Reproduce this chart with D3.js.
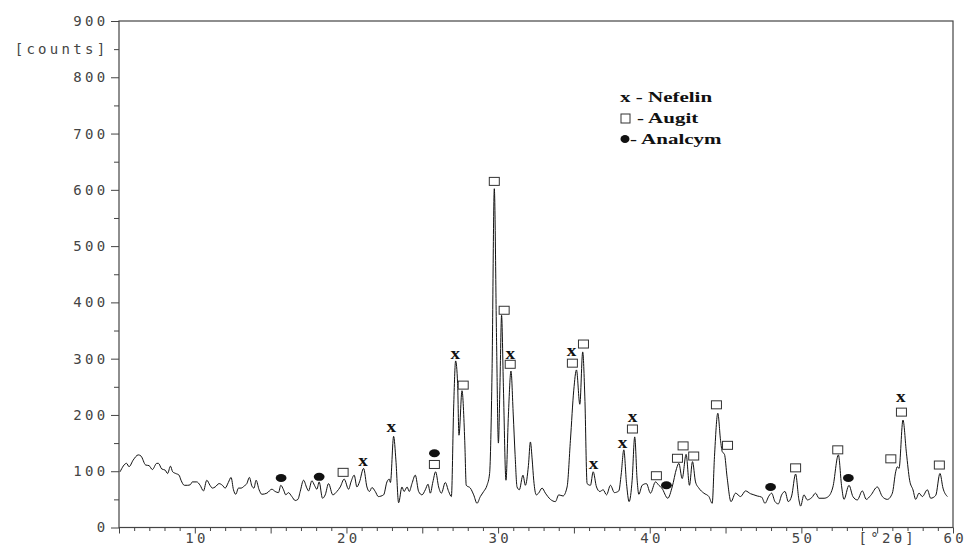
<!DOCTYPE html>
<html>
<head>
<meta charset="utf-8">
<script src="https://cdn.jsdelivr.net/npm/d3@7/dist/d3.min.js"></script>
<style>
  body { margin: 0; background: #fff; }
  .axis text { font-family: 'DejaVu Sans Mono', monospace; font-size: 14px; letter-spacing: 3.3px; fill: #444; }
  .axis line { stroke: #444; }
</style>
</head>
<body>
<div id="chart"></div>
<script>
// diffraction pattern: angle [°2θ] and intensity [counts]
const twoTheta = [
  5.07, 5.5, 5.66, 5.94, 6.27, 6.45, 6.76, 6.98, 7.2, 7.49, 7.6, 7.82, 8.04, 8.21, 8.39, 8.54, 8.74, 8.96,
  9.09, 9.31, 9.53, 9.7, 9.84, 10.13, 10.35, 10.57, 10.79, 11.0, 11.16, 11.34, 11.6, 11.82, 12.0, 12.21,
  12.39, 12.55, 12.7, 12.88, 13.05, 13.27, 13.43, 13.6, 13.76, 13.9, 14.04, 14.24, 14.42, 14.75, 15.08,
  15.3, 15.52, 15.67, 15.85, 16.0, 16.17, 16.4, 16.62, 16.8, 16.95, 17.17, 17.39, 17.5, 17.72, 17.89,
  18.05, 18.2, 18.42, 18.6, 18.82, 19.1, 19.37, 19.59, 19.85, 20.14, 20.3, 20.51, 20.69, 20.86, 21.13,
  21.35, 21.52, 21.68, 21.9, 22.1, 22.45, 22.67, 22.82, 22.9, 23.11, 23.26, 23.44, 23.66, 23.8, 24.0,
  24.14, 24.32, 24.54, 24.76, 24.98, 25.2, 25.38, 25.53, 25.7, 25.88, 26.08, 26.26, 26.52, 26.74, 26.92,
  27.07, 27.2, 27.33, 27.42, 27.62, 27.8, 27.9, 28.17, 28.39, 28.61, 28.83, 29.05, 29.27, 29.44, 29.6,
  29.75, 29.9, 30.02, 30.12, 30.23, 30.35, 30.52, 30.68, 30.85, 31.0, 31.12, 31.25, 31.4, 31.64, 31.8,
  32.0, 32.13, 32.25, 32.35, 32.52, 32.67, 32.9, 33.12, 33.45, 33.78, 34.0, 34.28, 34.55, 34.77, 34.99,
  35.17, 35.39, 35.58, 35.72, 35.87, 36.09, 36.27, 36.49, 36.71, 36.93, 37.15, 37.41, 37.67, 37.96,
  38.12, 38.29, 38.47, 38.64, 38.84, 39.01, 39.17, 39.28, 39.5, 39.78, 40.05, 40.38, 40.6, 40.8, 41.19,
  41.48, 41.77, 41.92, 42.14, 42.4, 42.62, 42.82, 43.02, 43.24, 43.57, 43.9, 44.12, 44.27, 44.49, 44.67,
  44.78, 44.93, 45.1, 45.36, 45.66, 45.99, 46.32, 46.65, 46.87, 47.09, 47.38, 47.6, 47.86, 48.04, 48.26,
  48.48, 48.7, 48.92, 49.14, 49.36, 49.62, 49.84, 49.95, 50.17, 50.39, 50.68, 50.94, 51.16, 51.5, 51.78,
  52.08, 52.44, 52.66, 52.81, 53.14, 53.4, 53.69, 54.02, 54.28, 54.57, 55.01, 55.34, 55.67, 56.0, 56.22,
  56.33, 56.44, 56.7, 56.93, 57.14, 57.36, 57.54, 57.76, 57.98, 58.31, 58.53, 58.86, 59.14, 59.34, 59.63
];
const counts = [
  99, 114, 108, 120, 129, 127, 111, 110, 103, 114, 114, 104, 102, 96, 109, 99, 96, 93,
  84, 75, 75, 76, 81, 81, 75, 65, 84, 75, 70, 72, 78, 75, 70, 80,
  89, 67, 59, 70, 70, 74, 78, 89, 74, 70, 84, 67, 59, 61, 68,
  64, 62, 75, 67, 58, 62, 55, 48, 50, 64, 84, 70, 65, 83, 75,
  68, 81, 52, 58, 78, 58, 64, 72, 86, 68, 81, 93, 72, 81, 105,
  72, 64, 71, 64, 55, 58, 81, 86, 80, 162, 120, 44, 72, 64, 72,
  64, 78, 93, 64, 58, 67, 77, 61, 81, 99, 72, 61, 80, 64, 55,
  214, 296, 256, 164, 243, 155, 75, 70, 58, 43, 55, 64, 75, 96, 274,
  602, 330, 150, 250, 377, 250, 84, 200, 278, 200, 130, 72, 67, 93, 75,
  110, 152, 120, 84, 58, 61, 70, 61, 50, 46, 58, 56, 72, 155, 244,
  280, 219, 312, 232, 78, 75, 99, 72, 64, 67, 58, 75, 62, 65,
  95, 138, 78, 46, 84, 161, 84, 59, 75, 78, 61, 81, 75, 70, 52,
  72, 105, 114, 87, 130, 75, 117, 81, 70, 61, 55, 43, 126, 203, 155,
  135, 130, 90, 46, 61, 55, 65, 60, 58, 56, 54, 43, 56, 61, 46,
  42, 58, 64, 46, 56, 95, 49, 38, 58, 49, 53, 61, 52, 52, 55,
  72, 129, 72, 50, 75, 55, 49, 65, 50, 57, 72, 55, 50, 61, 99,
  108, 105, 191, 132, 84, 67, 50, 61, 55, 67, 52, 57, 96, 70, 55
];

// phase marks [°2θ, counts] as placed above the peaks
const nefelinMarks = [[21.1, 116], [22.95, 177], [27.18, 306], [30.8, 306], [34.84, 312],
  [36.29, 110], [38.2, 148], [38.86, 194], [56.55, 230]];
const augitMarks = [[19.78, 98], [25.8, 112], [27.7, 253], [29.75, 615], [30.4, 386], [30.8, 290],
  [34.9, 292], [35.63, 326], [38.86, 175], [40.44, 92], [41.83, 123], [42.2, 145], [42.9, 127],
  [44.4, 218], [45.13, 146], [49.62, 106], [52.4, 138], [55.9, 122], [56.6, 205], [59.1, 111]];
const analcymMarks = [[15.69, 88], [18.2, 90], [25.8, 132], [41.1, 75], [47.97, 72], [53.1, 88]];

const yTickLabels = [0, 100, 200, 300, 400, 500, 600, 700, 800, 900];
const xTickLabels = [10, 20, 30, 40, 50, 60];

const containerWidth = 968;
const containerHeight = 545;
const margin = { top: 21, right: 15, bottom: 17.5, left: 119 };
const width = containerWidth - margin.left - margin.right;
const height = containerHeight - margin.top - margin.bottom;

const x = d3.scaleLinear().domain([5, 60]).range([0, width]);
const y = d3.scaleLinear().domain([0, 900]).range([height, 0]);

const svg = d3.select('#chart')
    .append('svg')
    .attr('width', containerWidth)
    .attr('height', containerHeight)
    .append('g')
    .attr('transform', `translate(${margin.left}, ${margin.top})`);

// y axis: major ticks every 100, minor every 50
const yAxis = d3.axisLeft(y)
    .tickValues(d3.range(0, 901, 50))
    .tickSize(8)
    .tickSizeOuter(0)
    .tickPadding(4)
    .tickFormat(d => yTickLabels.includes(d) ? d : (d === 850 ? '[counts]' : ''));

const gy = svg.append('g').attr('class', 'axis').call(yAxis);
gy.select('.domain').remove();
gy.selectAll('.tick line').attr('x2', d => d % 100 === 0 ? -8 : -5);
gy.selectAll('.tick text').attr('dx', 1.5);

// x axis: ticks every degree, long ones every 5
const xAxis = d3.axisBottom(x)
    .tickValues(d3.range(5, 61, 1))
    .tickSize(6)
    .tickSizeOuter(0)
    .tickPadding(0)
    .tickFormat(d => xTickLabels.includes(d) ? d : '');

const gx = svg.append('g')
    .attr('class', 'axis')
    .attr('transform', `translate(0, ${height})`)
    .call(xAxis);
gx.select('.domain').remove();
gx.selectAll('.tick line').attr('y2', d => d % 5 === 0 ? 6 : 3.5);
gx.selectAll('.tick text').attr('dx', 1.7);

gx.append('text')
    .attr('x', x(55.7))
    .attr('y', 6)
    .attr('dy', '0.71em')
    .attr('text-anchor', 'middle')
    .attr('fill', '#444')
    .text('[°2θ]');

// frame
svg.append('rect')
    .attr('width', width)
    .attr('height', height)
    .attr('fill', 'none')
    .attr('stroke', '#444')
    .attr('stroke-width', 1.2);

// pattern
const pattern = twoTheta.map((t, i) => [t, counts[i]]);

const line = d3.line()
    .x(d => x(d[0]))
    .y(d => y(d[1]))
    .curve(d3.curveMonotoneX);

svg.append('path')
    .datum(pattern)
    .attr('fill', 'none')
    .attr('stroke', '#111')
    .attr('stroke-width', 1)
    .attr('d', line);

// phase marks
svg.append('g')
    .selectAll('text')
    .data(nefelinMarks)
    .join('text')
    .attr('transform', d => `translate(${x(d[0])}, ${y(d[1])}) scale(1.2, 1)`)
    .attr('dy', '0.23em')
    .attr('text-anchor', 'middle')
    .style('font-family', "'Liberation Serif', serif")
    .style('font-weight', 700)
    .style('font-size', '16px')
    .attr('fill', '#111')
    .text('x');

svg.append('g')
    .selectAll('rect')
    .data(augitMarks)
    .join('rect')
    .attr('x', d => x(d[0]) - 5)
    .attr('y', d => y(d[1]) - 4)
    .attr('width', 10)
    .attr('height', 8)
    .attr('fill', '#fff')
    .attr('stroke', '#333')
    .attr('stroke-width', 1);

svg.append('g')
    .selectAll('ellipse')
    .data(analcymMarks)
    .join('ellipse')
    .attr('cx', d => x(d[0]))
    .attr('cy', d => y(d[1]))
    .attr('rx', 5.4)
    .attr('ry', 4)
    .attr('fill', '#111');

// legend (page coordinates)
const legend = d3.select('svg').append('g')
    .style('font-family', "'Liberation Serif', serif")
    .style('font-weight', 700)
    .style('font-size', '15px')
    .attr('fill', '#111');

legend.append('text')
    .attr('transform', 'translate(620, 102) scale(1.4, 1)')
    .text('x - Nefelin');

legend.append('rect')
    .attr('x', 621).attr('y', 114)
    .attr('width', 9).attr('height', 9)
    .attr('fill', '#fff').attr('stroke', '#333');

legend.append('text')
    .attr('transform', 'translate(637, 123) scale(1.4, 1)')
    .text('- Augit');

legend.append('ellipse')
    .attr('cx', 625).attr('cy', 139)
    .attr('rx', 4.5).attr('ry', 4)
    .attr('fill', '#111');

legend.append('text')
    .attr('transform', 'translate(630, 144) scale(1.4, 1)')
    .text('- Analcym');
</script>
</body>
</html>
